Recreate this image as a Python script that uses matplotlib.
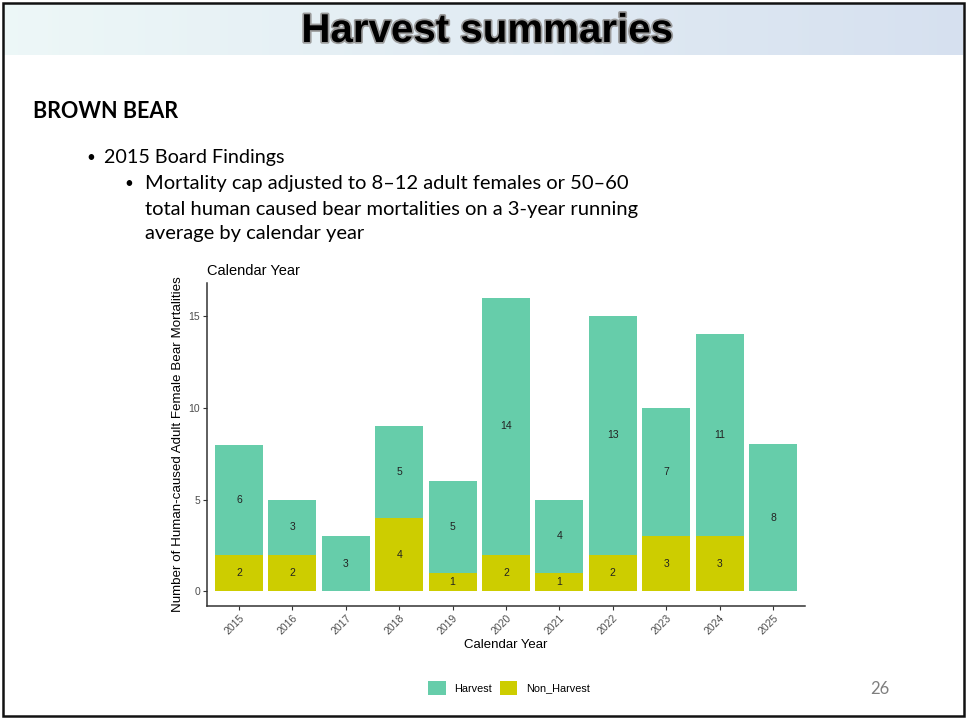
import numpy as np
import matplotlib
matplotlib.use("Agg")
import matplotlib.pyplot as plt
import matplotlib.patches as patches
import matplotlib.patheffects as pe

# ============================
# DATA
# ============================
years = ["2015", "2016", "2017", "2018", "2019", "2020",
         "2021", "2022", "2023", "2024", "2025"]
non_harvest = [2, 2, 0, 4, 1, 2, 1, 2, 3, 3, 0]
harvest = [6, 3, 3, 5, 5, 14, 4, 13, 7, 11, 8]
y_ticks = [0, 5, 10, 15]

HARVEST_COL = "#66CDAA"
NON_HARVEST_COL = "#CDCD00"

W, H = 966, 721
fig = plt.figure(figsize=(W / 100, H / 100), dpi=100)
plt.rcParams["font.family"] = ["Liberation Sans", "DejaVu Sans"]

# ============================
# SLIDE BACKGROUND (pixel coords)
# ============================
bg = fig.add_axes([0, 0, 1, 1])
bg.set_xlim(0, W)
bg.set_ylim(H, 0)
bg.axis("off")

grad = np.linspace(0, 1, 256).reshape(1, -1)
c0 = np.array([0.93, 0.97, 0.97])
c1 = np.array([0.84, 0.88, 0.94])
img = c0[None, None, :] * (1 - grad[..., None]) + c1[None, None, :] * grad[..., None]
bg.imshow(img, extent=[3, W - 3, 55, 3], aspect="auto", zorder=0)

bg.add_patch(patches.Rectangle((2.5, 2.5), W - 5, H - 8, fill=False,
                               edgecolor="#111111", lw=1.8, zorder=5))

bg.text(487, 31, "Harvest summaries", ha="center", va="center",
        fontsize=29, fontweight="bold",
        family=["Liberation Sans", "DejaVu Sans"], color="black",
        path_effects=[pe.withStroke(linewidth=2.5, foreground="#9a9a9a")])

body_font = ["Lato", "DejaVu Sans"]
bg.text(33, 111, "BROWN BEAR", ha="left", va="center", fontsize=15.5,
        fontweight="bold", family=body_font, color="black")
bg.text(86, 158, "\u2022", ha="left", va="center", fontsize=11, family=body_font)
bg.text(104, 158, "2015 Board Findings", ha="left", va="center",
        fontsize=14.2, family=body_font)
bg.text(124, 184, "\u2022", ha="left", va="center", fontsize=11, family=body_font)
sub_lines = ["Mortality cap adjusted to 8\u201312 adult females or 50\u201360",
             "total human caused bear mortalities on a 3-year running",
             "average by calendar year"]
for i, line in enumerate(sub_lines):
    bg.text(145, 184 + i * 25, line, ha="left", va="center",
            fontsize=14.5, family=body_font)

bg.text(880, 689, "26", ha="center", va="center", fontsize=12,
        family=body_font, color="#7f7f7f")

# ============================
# CHART
# ============================
ax = fig.add_axes([207 / W, (H - 606) / H, (805 - 207) / W, (606 - 283) / H])
x = np.arange(len(years))
ax.bar(x, non_harvest, width=0.9, color=NON_HARVEST_COL, label="Non_Harvest", zorder=2)
ax.bar(x, harvest, width=0.9, bottom=non_harvest, color=HARVEST_COL,
       label="Harvest", zorder=2)

for xi, nh, hv in zip(x, non_harvest, harvest):
    if nh > 0:
        ax.text(xi, nh / 2, str(nh), ha="center", va="center", fontsize=7.5,
                color="#222222")
    if hv > 0:
        ax.text(xi, nh + hv / 2, str(hv), ha="center", va="center", fontsize=7.5,
                color="#222222")

ax.set_xlim(-0.6, len(years) - 0.4)
ax.set_ylim(-0.8, 16.8)
ax.set_xticks(x)
ax.set_xticklabels(years, rotation=45, ha="right", rotation_mode="anchor",
                   fontsize=7.5, color="#4d4d4d")
ax.set_yticks(y_ticks)
ax.set_yticklabels([str(v) for v in y_ticks], fontsize=7.5, color="#4d4d4d")
ax.tick_params(axis="both", length=3, width=0.8, color="#333333", pad=2)
for side in ["top", "right"]:
    ax.spines[side].set_visible(False)
for side in ["left", "bottom"]:
    ax.spines[side].set_color("#333333")
    ax.spines[side].set_linewidth(1.1)

ax.set_xlabel("Calendar Year", fontsize=9.5, labelpad=2)
ax.set_ylabel("Number of Human-caused Adult Female Bear Mortalities",
              fontsize=9.6, labelpad=3)
ax.set_title("Calendar Year", loc="left", fontsize=10.5, pad=6)

handles, labels = ax.get_legend_handles_labels()
fig.legend(handles[::-1], labels[::-1], loc="center",
           bbox_to_anchor=(509 / W, 1 - 688 / H), ncol=2, frameon=False,
           fontsize=7.8, handlelength=1.6, handleheight=1.7, columnspacing=0.7,
           handletextpad=0.8)

fig.savefig("out.png", dpi=100)
